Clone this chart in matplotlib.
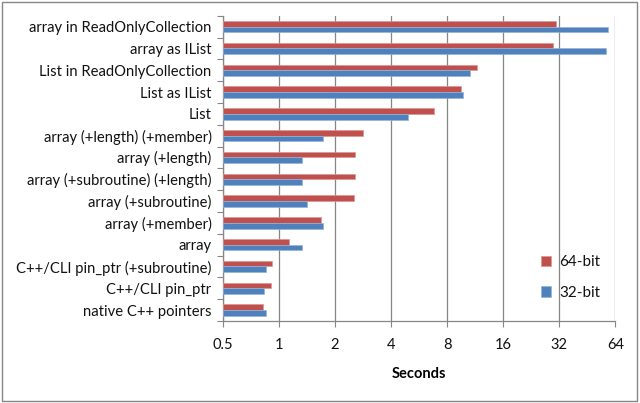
import matplotlib
matplotlib.use("Agg")
import matplotlib.pyplot as plt
from matplotlib.ticker import FixedLocator, NullFormatter, FixedFormatter
from matplotlib.patches import Rectangle
import numpy as np

categories = [
    "array in ReadOnlyCollection",
    "array as IList",
    "List in ReadOnlyCollection",
    "List as IList",
    "List",
    "array (+length) (+member)",
    "array (+length)",
    "array (+subroutine) (+length)",
    "array (+subroutine)",
    "array (+member)",
    "array",
    "C++/CLI pin_ptr (+subroutine)",
    "C++/CLI pin_ptr",
    "native C++ pointers",
]
bit64 = [30.7, 29.5, 11.6, 9.5, 6.83, 2.84, 2.58, 2.58, 2.54, 1.68, 1.14, 0.92, 0.905, 0.82]
bit32 = [58.2, 56.8, 10.6, 9.78, 4.95, 1.72, 1.33, 1.34, 1.41, 1.72, 1.34, 0.85, 0.83, 0.85]
xticks = [0.5, 1, 2, 4, 8, 16, 32, 64]
xticklabels = ["0.5", "1", "2", "4", "8", "16", "32", "64"]

plt.rcParams['font.family'] = ['Lato', 'DejaVu Sans']

fig = plt.figure(figsize=(6.4, 4.03), dpi=100)
ax = fig.add_axes([0.348, 0.2035, 0.6134, 0.7575])

n = len(categories)
y = np.arange(n)
h = 0.26
red = "#C0504D"
blue = "#4F81BD"
base = xticks[0]
ax.barh(y - h / 2, np.array(bit64) - base, left=base, height=h, color=red,
        edgecolor="#D99694", linewidth=0.5, label="64-bit", zorder=3)
ax.barh(y + h / 2, np.array(bit32) - base, left=base, height=h, color=blue,
        edgecolor="#95B3D7", linewidth=0.5, label="32-bit", zorder=3)

ax.set_xscale("log", base=2)
ax.set_xlim(xticks[0], xticks[-1])
ax.set_ylim(n - 0.5, -0.5)

ax.xaxis.set_major_locator(FixedLocator(xticks))
ax.xaxis.set_major_formatter(FixedFormatter(xticklabels))
ax.xaxis.set_minor_locator(FixedLocator([]))
ax.grid(axis="x", color="#868686", linewidth=0.9, zorder=0)
ax.tick_params(axis="x", length=4, color="#868686", labelsize=10.5, pad=8,
               labelcolor="#111111")

ax.yaxis.set_major_locator(FixedLocator(np.arange(n + 1) - 0.5))
ax.yaxis.set_major_formatter(NullFormatter())
ax.yaxis.set_minor_locator(FixedLocator(y))
ax.yaxis.set_minor_formatter(FixedFormatter(categories))
ax.tick_params(axis="y", which="major", length=4, color="#868686")
ax.tick_params(axis="y", which="minor", length=0, labelsize=10.6, pad=8,
               labelcolor="#111111")

for s in ["top", "right"]:
    ax.spines[s].set_visible(False)
for s in ["left", "bottom"]:
    ax.spines[s].set_color("#868686")
    ax.spines[s].set_linewidth(0.9)

ax.set_xlabel("Seconds", fontsize=10.5, fontweight="bold", labelpad=11)

leg = ax.legend(loc="upper left", bbox_to_anchor=(0.775, 0.26), frameon=False,
                fontsize=11, handlelength=0.7, handleheight=0.7,
                labelspacing=1.1, handletextpad=0.5)
for t in leg.get_texts():
    t.set_color("#111111")

fig.patches.append(Rectangle((0.003, 0.004), 0.993, 0.991, transform=fig.transFigure,
                             fill=False, edgecolor="#868686", linewidth=1.0))

fig.savefig("out.png", dpi=100)
